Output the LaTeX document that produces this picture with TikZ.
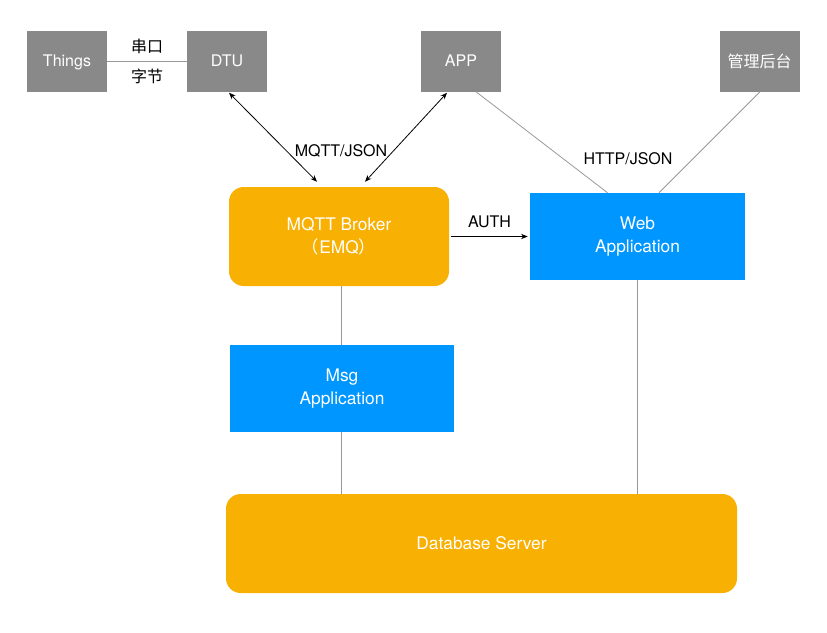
\documentclass[tikz,border=0pt]{standalone}
\usepackage{fontspec}
\setmainfont{TeX Gyre Heros}
\newfontfamily\cjk{Noto Sans CJK SC}
\usetikzlibrary{arrows.meta,calc}

\definecolor{boxgray}{HTML}{898989}
\definecolor{boxorange}{HTML}{F8B002}
\definecolor{boxblue}{HTML}{0096FF}
\definecolor{linegray}{HTML}{999999}

\tikzset{
  graybox/.style={fill=boxgray, text=white, minimum width=60pt, minimum height=45.75pt, inner sep=0pt, text depth=1pt, font=\fontsize{12}{14}\selectfont},
  orangebox/.style={fill=boxorange, text=white, rounded corners=11pt, align=center, inner sep=0pt, font=\fontsize{13}{17}\selectfont},
  bluebox/.style={fill=boxblue, text=white, align=center, inner sep=0pt, font=\fontsize{13}{17}\selectfont},
  link/.style={draw=linegray, line width=0.6pt},
  duplex/.style={draw=black, line width=0.6pt, {Stealth[length=5pt,width=4pt]}-{Stealth[length=5pt,width=4pt]}},
  label/.style={font=\fontsize{12}{14}\selectfont}
}

\begin{document}
\begin{tikzpicture}[x=0.75pt, y=-0.75pt]

% Page size (pixels of the reference)
\useasboundingbox (0,0) rectangle (827,632);

% Top row
\node[graybox] (things) at (67,61) {Things};
\node[graybox] (dtu) at (227,61) {DTU};
\node[graybox] (app) at (461,61) {APP};
\node[graybox] (admin) at (759.5,61) {\cjk 管理后台};

% Middle and bottom boxes
\node[orangebox, minimum width=165pt, minimum height=74.25pt] (broker) at (339,236.5) {MQTT Broker\\{\cjk （}EMQ{\cjk ）}};
\node[bluebox, minimum width=161.25pt, minimum height=65.25pt] (webapp) at (637.5,236.5) {Web\\Application};
\node[bluebox, minimum width=168pt, minimum height=65.25pt] (msgapp) at (342,388.5) {Msg\\Application};
\node[orangebox, minimum width=383.25pt, minimum height=74.25pt] (database) at (481.5,543.5) {Database Server};

% Serial link
\draw[link] (things) -- (dtu) node[midway, above=2pt, label] {\cjk 串口} node[midway, below=2pt, label] {\cjk 字节};

% MQTT connections
\draw[duplex] ($(dtu.south)+(2,1)$) -- ($(broker.north)+(-22,-5)$);
\draw[duplex] ($(app.south)+(-14,1)$) -- ($(broker.north)+(26,-5)$);
\node[label] (mqtt) at (341,151) {MQTT/JSON};

% HTTP connections
\draw[link] ($(app.south)+(15,0)$) -- ($(webapp.north)+(-30,0)$);
\draw[link] ($(admin.south)+(0.5,0)$) -- ($(webapp.north)+(21.5,0)$);
\node[label] (http) at (628,159) {HTTP/JSON};

% Auth
\draw[draw=black, line width=0.6pt, -{Stealth[length=5pt,width=4pt]}, shorten <=1.5pt, shorten >=1.5pt] (broker.east) -- (webapp.west) node[midway, above=3pt, label] {AUTH};

% Vertical links
\coordinate (msgtop) at ($(msgapp.north)+(-1,0)$);
\coordinate (msgbot) at ($(msgapp.south)+(-1,0)$);
\draw[link] (msgtop) -- (msgtop |- broker.south);
\draw[link] (msgbot) -- (msgbot |- database.north);
\draw[link] (webapp.south) -- (webapp.south |- database.north);

\end{tikzpicture}
\end{document}
